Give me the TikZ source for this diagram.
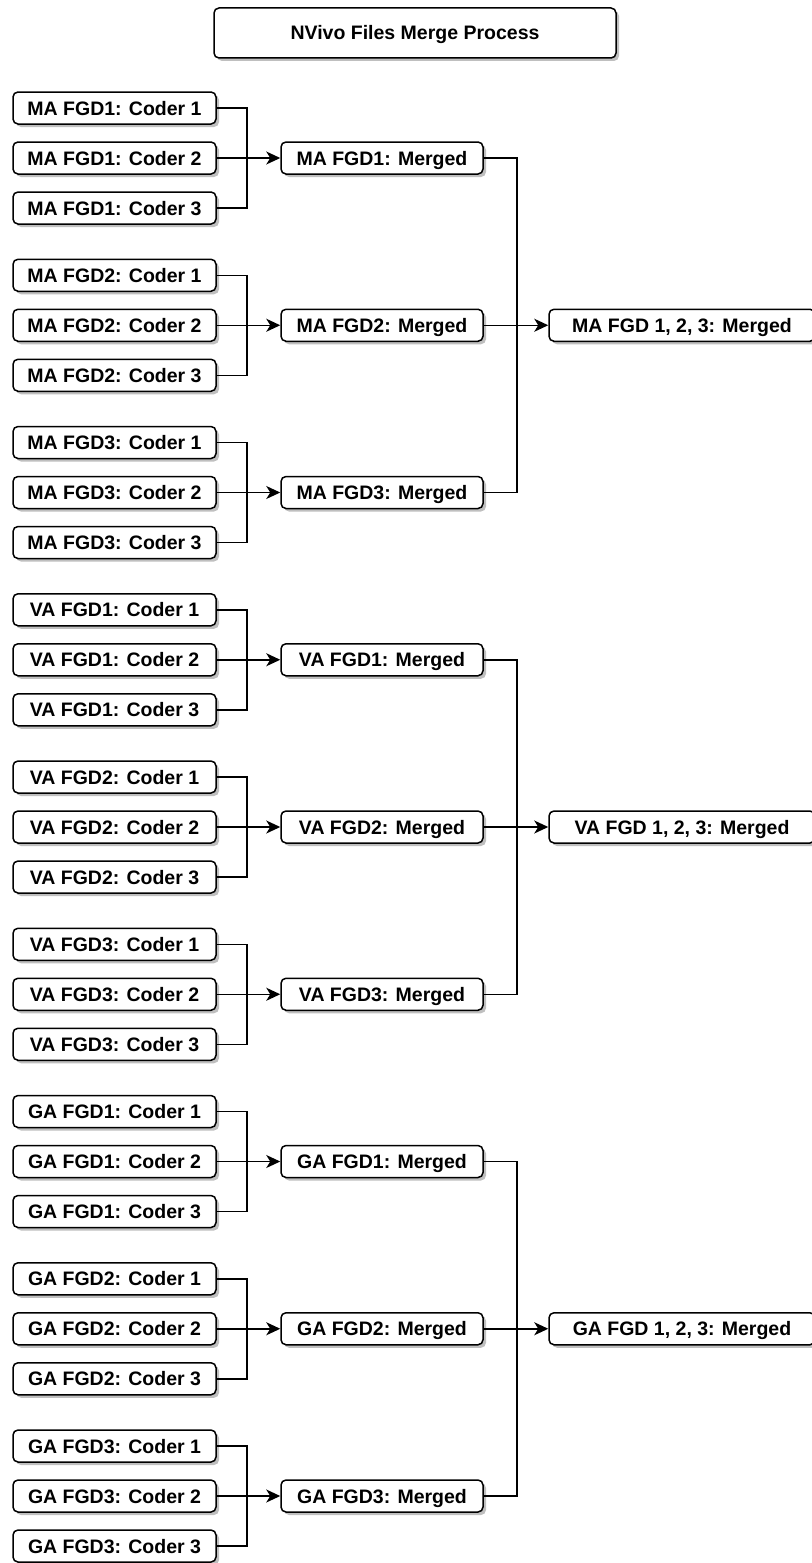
\documentclass[tikz,border=0pt]{standalone}
\usepackage{fontspec}
\setmainfont{Liberation Sans}
\usetikzlibrary{shadows,arrows.meta}
\begin{document}
\begin{tikzpicture}[x=1pt,y=-1pt,
  box/.style={draw=black, line width=1.5pt, rounded corners=5pt, fill=white, minimum height=32pt, inner sep=0pt, text height=14pt, text depth=0pt, font=\fontsize{19.5}{22}\selectfont\bfseries, drop shadow={shadow xshift=3pt, shadow yshift=-3pt, fill=black!25, opacity=1}},
  coder/.style={box, minimum width=203pt},
  merged/.style={box, minimum width=202pt},
  final/.style={box, minimum width=266pt},
  title/.style={box, minimum width=402pt, minimum height=50pt},
  link/.style={line width=1.5pt},
  arr/.style={link, -{Stealth[length=14pt,width=13pt,inset=4pt]}}]
\useasboundingbox (0,0) rectangle (811,1563);
\node[title] (title) at (415,33) {NVivo Files Merge Process};
\foreach \pre [count=\p from 0] in {MA,VA,GA} {
  \foreach \g [count=\gi from 0] in {1,2,3} {
    \pgfmathsetmacro{\yc}{158+167.25*(3*\p+\gi)}
    \foreach \c in {1,2,3} {
      \node[coder] (c-\pre-\g-\c) at (114.5,\yc+50*\c-100) {\pre{} FGD\g: Coder \c};
    }
    \node[merged] (m-\pre-\g) at (382,\yc) {\pre{} FGD\g: Merged};
    \draw[link] (c-\pre-\g-1.east) -- ++(30,0) |- (c-\pre-\g-3.east);
    \draw[arr] (c-\pre-\g-2.east) -- (m-\pre-\g.west);
  }
  \pgfmathsetmacro{\yf}{158+167.25*(3*\p+1)}
  \node[final] (f-\pre) at (682,\yf) {\pre{} FGD 1, 2, 3: Merged};
  \draw[link] (m-\pre-1.east) -- ++(33,0) |- (m-\pre-3.east);
  \draw[arr] (m-\pre-2.east) -- (f-\pre.west);
}
\end{tikzpicture}
\end{document}
